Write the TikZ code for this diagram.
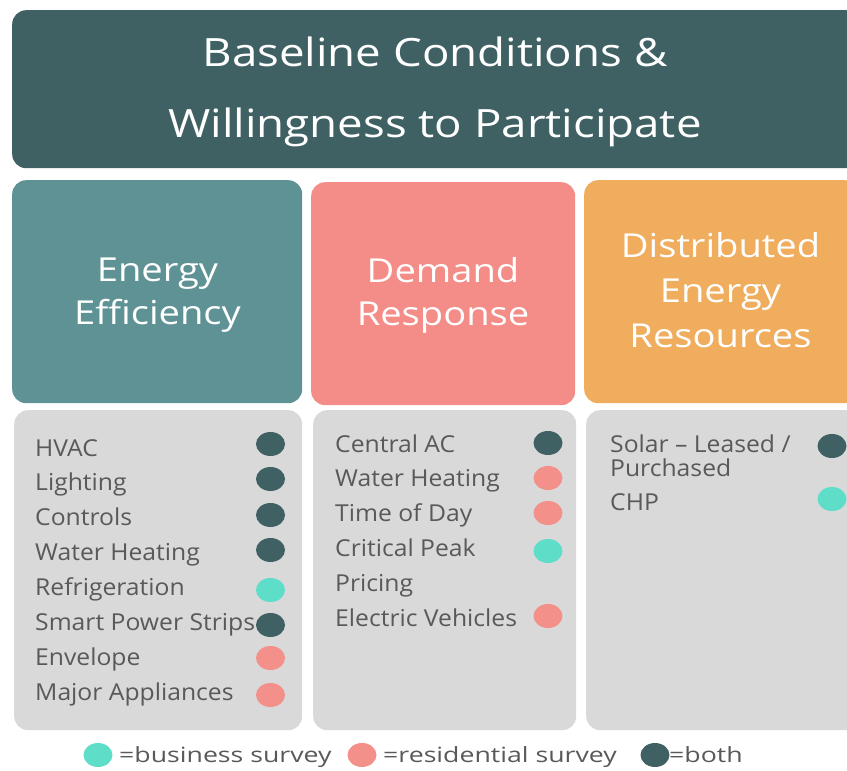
\documentclass[tikz,border=0pt]{standalone}
\usepackage{fontspec}
\setmainfont{Open Sans}
\newfontfamily\titlefont[FakeStretch=1.17]{Open Sans}
\newfontfamily\headfont[FakeStretch=1.155]{Open Sans}
\newfontfamily\itemfont[FakeStretch=1.06]{Open Sans}
\newfontfamily\legendfont[FakeStretch=1.27]{Open Sans}
\usetikzlibrary{shapes.geometric}
\definecolor{darkteal}{HTML}{3F6163}
\definecolor{eecol}{HTML}{5F9294}
\definecolor{drcol}{HTML}{F48C87}
\definecolor{dercol}{HTML}{EFAD5D}
\definecolor{graybox}{HTML}{D9D9D9}
\definecolor{cyandot}{HTML}{5EDDC9}
\definecolor{salmondot}{HTML}{F4908A}
\definecolor{txtgray}{HTML}{595959}
\begin{document}
\begin{tikzpicture}[x=1pt,y=-1pt,
  panel/.style={rectangle, rounded corners=14pt, anchor=north west, inner sep=0pt},
  headtext/.style={anchor=base, inner sep=0pt, text=white, align=center, font=\headfont\fontsize{33}{43}\selectfont},
  item/.style={anchor=base west, inner sep=0pt, text=txtgray, font=\itemfont\fontsize{23.3}{24}\selectfont, align=left},
  legtext/.style={anchor=base west, inner sep=0pt, text=txtgray, font=\legendfont\fontsize{21}{24}\selectfont},
  dotmark/.style={ellipse, minimum width=29pt, minimum height=24pt, inner sep=0pt},
  both/.style={dotmark, fill=darkteal},
  biz/.style={dotmark, fill=cyandot},
  res/.style={dotmark, fill=salmondot}]
\useasboundingbox (0,0) rectangle (847,771);
\clip (0,0) rectangle (847,771);
% title
\node[panel, fill=darkteal, minimum width=848pt, minimum height=158pt] (title) at (12,10) {};
\node[anchor=base, inner sep=0pt, text=white, align=center, font=\titlefont\fontsize{39}{71}\selectfont] (titletext) at (435,137)
  {Baseline Conditions \&\\Willingness to Participate};
% headers
\node[panel, fill=eecol, minimum width=290pt, minimum height=223pt] (ee) at (12,180) {};
\node[headtext] (eetext) at (157.5,324) {Energy\\Efficiency};
\node[panel, fill=drcol, minimum width=264pt, minimum height=223pt] (dr) at (311,182) {};
\node[headtext] (drtext) at (443,325.5) {Demand\\Response};
\node[panel, fill=dercol, minimum width=274pt, minimum height=223pt] (der) at (584,180) {};
\node[headtext, font=\headfont\fontsize{33}{45}\selectfont] (dertext) at (720.5,347.5) {Distributed\\Energy\\Resources};
% gray panels
\node[panel, fill=graybox, minimum width=288pt, minimum height=320pt] (eeg) at (14,410) {};
\node[panel, fill=graybox, minimum width=263pt, minimum height=320pt] (drg) at (313,410) {};
\node[panel, fill=graybox, minimum width=274pt, minimum height=320pt] (derg) at (586,410) {};
% EE items
\node[item] (e1) at (35,456) {HVAC};
\node[item] (e2) at (35,490.9) {Lighting};
\node[item] (e3) at (35,525.8) {Controls};
\node[item] (e4) at (35,560.7) {Water Heating};
\node[item] (e5) at (35,595.6) {Refrigeration};
\node[item] (e6) at (35,630.5) {Smart Power Strips};
\node[item] (e7) at (35,665.4) {Envelope};
\node[item] (e8) at (35,700.3) {Major Appliances};
\node[both] (ed1) at (270.5,444) {};
\node[both] (ed2) at (270.5,479) {};
\node[both] (ed3) at (270.5,515) {};
\node[both] (ed4) at (270.5,550) {};
\node[biz]  (ed5) at (270.5,590) {};
\node[both] (ed6) at (270.5,625) {};
\node[res]  (ed7) at (270.5,658) {};
\node[res]  (ed8) at (270.5,695) {};
% DR items
\node[item] (d1) at (335,452) {Central AC};
\node[item] (d2) at (335,486.8) {Water Heating};
\node[item] (d3) at (335,521.6) {Time of Day};
\node[item] (d4) at (335,556.4) {Critical Peak};
\node[item] (d5) at (335,591.2) {Pricing};
\node[item] (d6) at (335,626) {Electric Vehicles};
\node[both] (dd1) at (548,443) {};
\node[res]  (dd2) at (548,478) {};
\node[res]  (dd3) at (548,513) {};
\node[biz]  (dd4) at (548,551) {};
\node[res]  (dd6) at (548,616) {};
% DER items
\node[item] (r1) at (610,476) {Solar – Leased /\\Purchased};
\node[item] (r2) at (610,510) {CHP};
\node[both] (rd1) at (832,446) {};
\node[biz]  (rd2) at (832,499) {};
% legend
\node[biz] (lb) at (98,755) {};
\node[legtext] (lbt) at (119,762) {=business survey};
\node[res] (lr) at (362,755) {};
\node[legtext] (lrt) at (383,762) {=residential survey};
\node[both] (ld) at (655,755) {};
\node[legtext] (ldt) at (669,762) {=both};
\end{tikzpicture}
\end{document}
